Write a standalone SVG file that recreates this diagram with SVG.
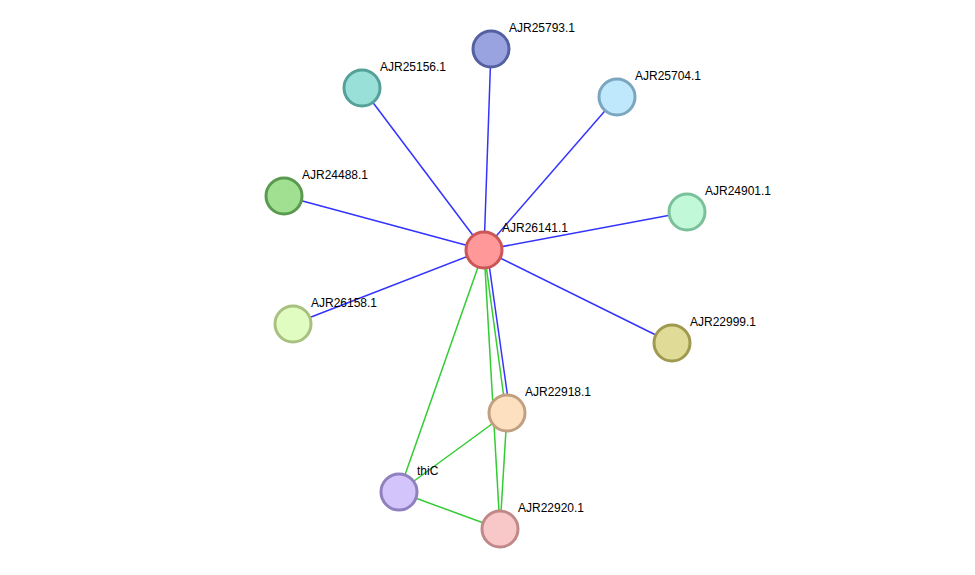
<svg xmlns="http://www.w3.org/2000/svg" width="975" height="575" viewBox="0 0 975 575">
<style>
.b{stroke:#3333ff;stroke-width:1.5;fill:none}
.g{stroke:#33cc33;stroke-width:1.5;fill:none}
circle{stroke-width:3}
text{font-family:"Liberation Sans",Arial,sans-serif;font-size:12px;fill:#000}
</style>
<rect width="975" height="575" fill="#fff"/>
<g id="edges">
<line class="b" x1="484" y1="250" x2="491" y2="49"/>
<line class="b" x1="484" y1="250" x2="362" y2="88"/>
<line class="b" x1="484" y1="250" x2="617" y2="97"/>
<line class="b" x1="484" y1="250" x2="284" y2="196"/>
<line class="b" x1="484" y1="250" x2="687" y2="212"/>
<line class="b" x1="484" y1="250" x2="293" y2="324"/>
<line class="b" x1="484" y1="250" x2="672" y2="343"/>
<line class="b" x1="487" y1="250" x2="510" y2="413"/>
<line class="g" x1="484" y1="250" x2="506" y2="413"/>
<line class="g" x1="484" y1="250" x2="500" y2="529"/>
<line class="g" x1="484" y1="250" x2="399" y2="492"/>
<line class="g" x1="507" y1="413" x2="399" y2="492"/>
<line class="g" x1="507" y1="413" x2="500" y2="529"/>
<line class="g" x1="399" y1="492" x2="500" y2="529"/>
</g>
<g id="AJR26141.1"><circle cx="484" cy="250" r="18" fill="#f99" stroke="#c55"/><text x="502" y="232">AJR26141.1</text></g>
<g id="AJR25793.1"><circle cx="491" cy="49" r="18" fill="#99a3e0" stroke="#5560a0"/><text x="509" y="32">AJR25793.1</text></g>
<g id="AJR25156.1"><circle cx="362" cy="88" r="18" fill="#99e0d8" stroke="#55a098"/><text x="380" y="71">AJR25156.1</text></g>
<g id="AJR25704.1"><circle cx="617" cy="97" r="18" fill="#c0e8fc" stroke="#7aa6c0"/><text x="635" y="80">AJR25704.1</text></g>
<g id="AJR24488.1"><circle cx="284" cy="196" r="18" fill="#a0e090" stroke="#5a9a50"/><text x="302" y="179">AJR24488.1</text></g>
<g id="AJR24901.1"><circle cx="687" cy="212" r="18" fill="#c0f8d8" stroke="#7ac09a"/><text x="705" y="195">AJR24901.1</text></g>
<g id="AJR26158.1"><circle cx="293" cy="324" r="18" fill="#e0fcc0" stroke="#a8c080"/><text x="311" y="307">AJR26158.1</text></g>
<g id="AJR22999.1"><circle cx="672" cy="343" r="18" fill="#e0dc98" stroke="#a09a50"/><text x="690" y="326">AJR22999.1</text></g>
<g id="AJR22918.1"><circle cx="507" cy="413" r="18" fill="#fde0c0" stroke="#c0a080"/><text x="525" y="396">AJR22918.1</text></g>
<g id="thiC"><circle cx="399" cy="492" r="18" fill="#d4c4fc" stroke="#9080c0"/><text x="417" y="475">thiC</text></g>
<g id="AJR22920.1"><circle cx="500" cy="529" r="18" fill="#f8c8c8" stroke="#c08888"/><text x="518" y="512">AJR22920.1</text></g>
</svg>
